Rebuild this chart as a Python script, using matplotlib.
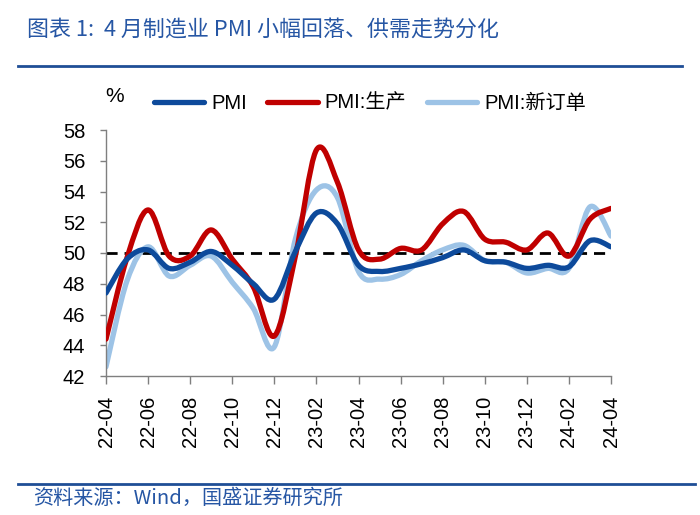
import matplotlib
matplotlib.use("Agg")
import matplotlib.pyplot as plt
from matplotlib.path import Path
from matplotlib.patches import PathPatch
from matplotlib.lines import Line2D
import numpy as np

months = ["22-04","22-05","22-06","22-07","22-08","22-09","22-10","22-11","22-12",
          "23-01","23-02","23-03","23-04","23-05","23-06","23-07","23-08","23-09",
          "23-10","23-11","23-12","24-01","24-02","24-03","24-04"]
pmi = [47.4, 49.6, 50.2, 49.0, 49.4, 50.1, 49.2, 48.0, 47.0, 50.1, 52.6, 51.9, 49.2,
       48.8, 49.0, 49.3, 49.7, 50.2, 49.5, 49.4, 49.0, 49.2, 49.1, 50.8, 50.4]
production = [44.4, 49.7, 52.8, 49.8, 49.8, 51.5, 49.6, 47.8, 44.6, 49.8, 56.7, 54.6, 50.2,
              49.6, 50.3, 50.2, 51.9, 52.7, 50.9, 50.7, 50.2, 51.3, 49.8, 52.2, 52.9]
new_orders = [42.6, 48.2, 50.4, 48.5, 49.2, 49.8, 48.1, 46.4, 43.9, 50.9, 54.1, 53.6, 48.8,
              48.3, 48.6, 49.5, 50.2, 50.5, 49.5, 49.4, 48.7, 49.0, 49.0, 53.0, 51.1]
series_names = ["PMI", "PMI:生产", "PMI:新订单"]
colors = ["#0D4A9B", "#C00000", "#9DC3E6"]
yticks = [42, 44, 46, 48, 50, 52, 54, 56, 58]

FONT = ["Liberation Sans", "Noto Sans CJK SC", "DejaVu Sans"]
CJK = ["Noto Sans CJK SC", "DejaVu Sans"]
plt.rcParams['font.family'] = FONT

def smooth_path(x, y):
    pts = np.column_stack([x, y]).astype(float)
    n = len(pts)
    verts = [pts[0]]
    codes = [Path.MOVETO]
    for i in range(n - 1):
        p0 = pts[i - 1] if i > 0 else pts[i]
        p1 = pts[i]
        p2 = pts[i + 1]
        p3 = pts[i + 2] if i + 2 < n else pts[i + 1]
        c1 = p1 + (p2 - p0) / 6.0
        c2 = p2 - (p3 - p1) / 6.0
        verts += [c1, c2, p2]
        codes += [Path.CURVE4] * 3
    return Path(verts, codes)

fig = plt.figure(figsize=(7.0, 5.15), dpi=100)
ax = fig.add_axes([106/700, 1 - 376/515, (611 - 106)/700, (376 - 130)/515])

x = np.arange(len(months))
ax.axhline(50, xmin=0, xmax=0.99, color="black", lw=2.0, ls=(0, (4, 2.5)), zorder=1)

for vals, c, z in [(new_orders, colors[2], 2), (production, colors[1], 3), (pmi, colors[0], 4)]:
    patch = PathPatch(smooth_path(x, vals), fill=False, edgecolor=c, lw=3.8,
                      capstyle="round", joinstyle="round", zorder=z)
    ax.add_patch(patch)

ax.set_xlim(0, len(months) - 1)
ax.set_ylim(42, 58)
ax.set_yticks(yticks)
ax.set_yticklabels([str(v) for v in yticks], fontsize=14.5)
ax.set_xticks(x[::2])
ax.set_xticklabels(months[::2], rotation=90, fontsize=14.5)
for s in ["top", "right"]:
    ax.spines[s].set_visible(False)
for s in ["left", "bottom"]:
    ax.spines[s].set_color("#7F7F7F")
    ax.spines[s].set_linewidth(1.0)
ax.tick_params(axis="both", direction="out", color="#7F7F7F", width=1.0)
ax.tick_params(axis="y", length=4, pad=11)
ax.tick_params(axis="x", length=6, pad=8)

handles = [Line2D([], [], color=c, lw=3.8, solid_capstyle="round") for c in colors]
fig.legend(handles, series_names, loc="center left", bbox_to_anchor=(146/700, 1 - 103/515),
           ncol=3, frameon=False, prop={"family": FONT, "size": 14.5},
           handlelength=2.5, handletextpad=0.35, columnspacing=1.0, borderaxespad=0)

fig.text(105/700, 1 - 96/515, "%", fontsize=15, ha="left", va="center")

title_color = "#2656A4"
fig.text(27/700, 1 - 30/515, "图表 1:  4 月制造业 PMI 小幅回落、供需走势分化", fontsize=15.8,
         color=title_color, family=CJK, ha="left", va="center", style="italic")
fig.add_artist(Line2D([18/700, 682/700], [1 - 66/515, 1 - 66/515], color="#1F4E96", lw=2.0))
fig.add_artist(Line2D([18/700, 695/700], [1 - 484/515, 1 - 484/515], color="#1F4E96", lw=2.0))
fig.text(33/700, 1 - 498/515, "资料来源：Wind，国盛证券研究所", fontsize=14.5,
         color=title_color, family=CJK, ha="left", va="center", style="italic")

fig.savefig("out.png", dpi=100)
